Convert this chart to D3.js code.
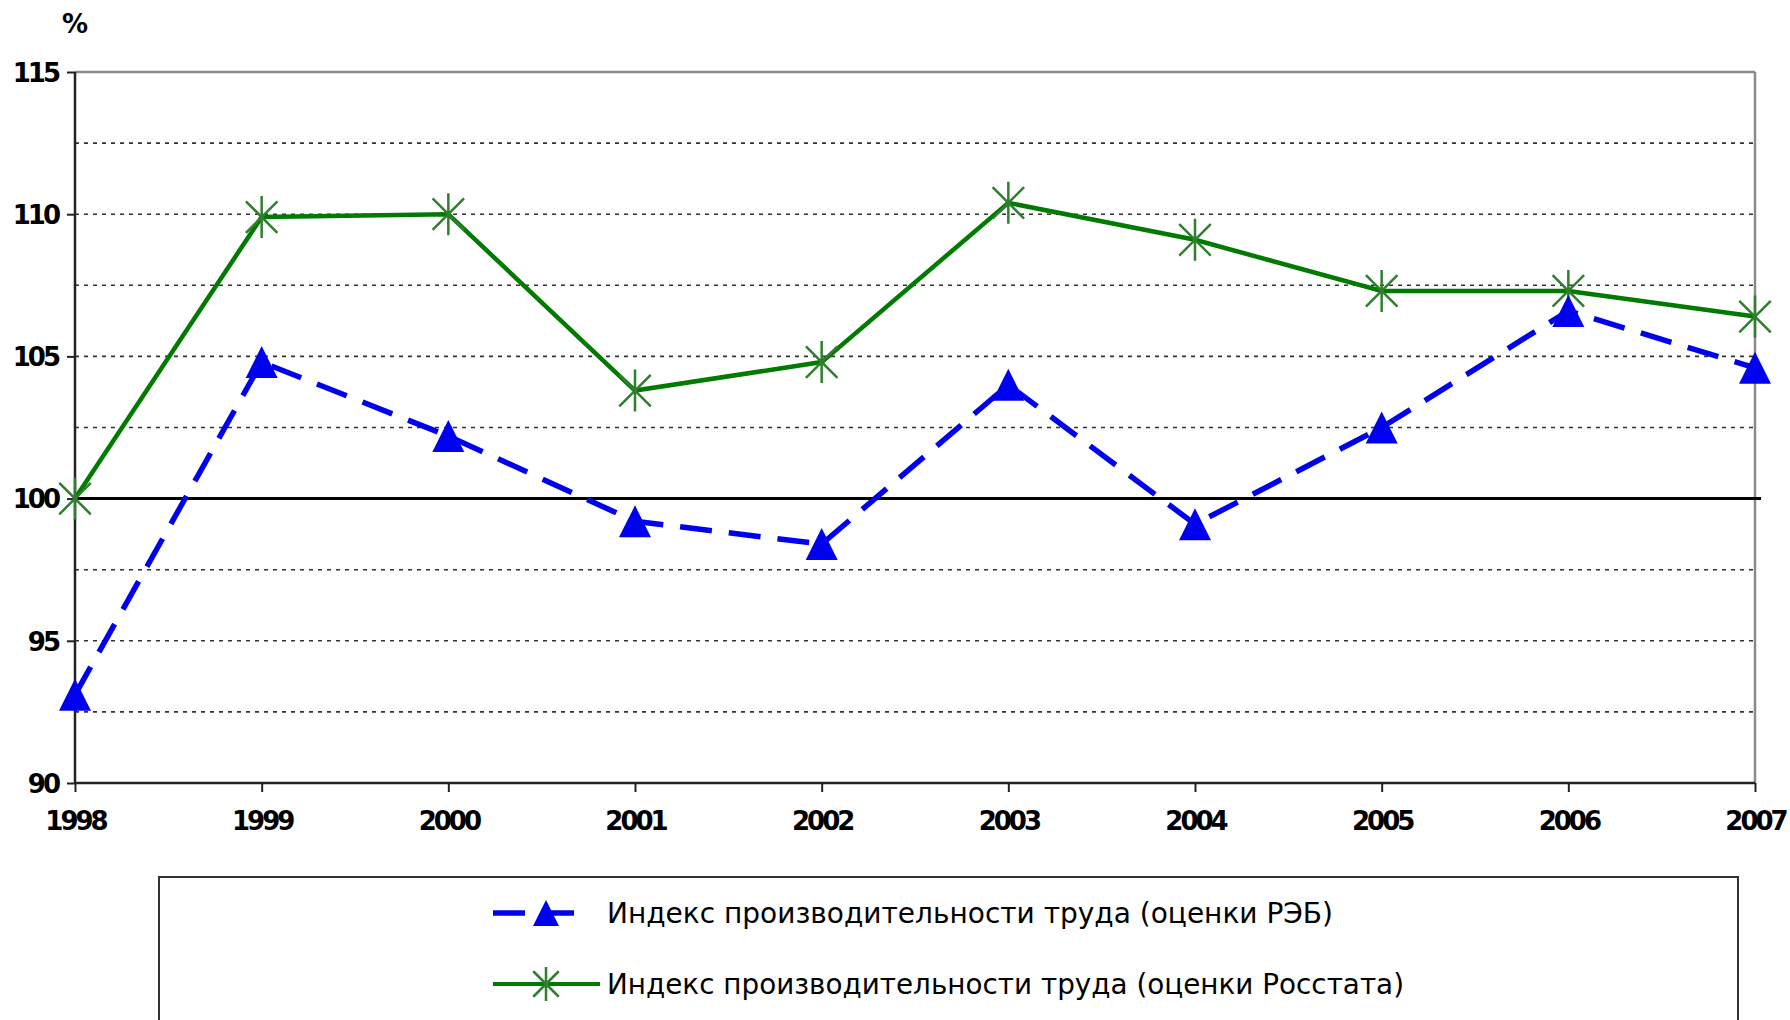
<html>
<head>
<meta charset="utf-8">
<title>labour productivity</title>
<script src="https://d3js.org/d3.v7.min.js"></script>
<style>
body { margin: 0; background: #fff; }
svg { display: block; }
</style>
</head>
<body>
<svg id="chart" width="1790" height="1020"></svg>
<script>
// data
var years = [1998, 1999, 2000, 2001, 2002, 2003, 2004, 2005, 2006, 2007];
var rebIndex = [93.1, 104.8, 102.2, 99.2, 98.4, 104.0, 99.1, 102.5, 106.6, 104.6];
var rosstatIndex = [100.0, 109.9, 110.0, 103.8, 104.8, 110.4, 109.1, 107.3, 107.3, 106.4];
var yTicks = [90, 95, 100, 105, 110, 115];
var gridLines = [92.5, 95, 97.5, 102.5, 105, 107.5, 110, 112.5];
var legendNames = ["Индекс производительности труда (оценки РЭБ)",
                   "Индекс производительности труда (оценки Росстата)"];

var svg = d3.select("#chart");

var x = d3.scaleLinear().domain([1998, 2007]).range([75, 1755]);
var y = d3.scaleLinear().domain([90, 115]).range([783, 72]);

var blue = "#0000f0", green = "#007a00", starGreen = "#2f7f2f";

// dotted grid
svg.selectAll("line.grid").data(gridLines).enter().append("line")
  .attr("class", "grid")
  .attr("x1", x(1998)).attr("x2", x(2007))
  .attr("y1", function (d) { return y(d); }).attr("y2", function (d) { return y(d); })
  .style("stroke", "#333").style("stroke-width", 1.6).style("stroke-dasharray", "4,5");

// top and right frame
svg.append("line").attr("x1", x(1998)).attr("x2", x(2007)).attr("y1", y(115)).attr("y2", y(115))
  .style("stroke", "#8a8a8a").style("stroke-width", 2.5);
svg.append("line").attr("x1", x(2007)).attr("x2", x(2007)).attr("y1", y(115)).attr("y2", y(90))
  .style("stroke", "#8a8a8a").style("stroke-width", 2.5);

// 100 line
svg.append("line").attr("x1", x(1998)).attr("x2", x(2007) + 6).attr("y1", y(100)).attr("y2", y(100))
  .style("stroke", "#000").style("stroke-width", 3);

// axes
var yAxis = d3.axisLeft(y).tickValues(yTicks).tickSize(8).tickPadding(9);
var gy = svg.append("g").attr("transform", "translate(" + x(1998) + ",0)").call(yAxis);
var xAxis = d3.axisBottom(x).tickValues(years).tickFormat(d3.format("d")).tickSize(9).tickPadding(20);
var gx = svg.append("g").attr("transform", "translate(0," + y(90) + ")").call(xAxis);

[gx, gy].forEach(function (g) {
  g.select(".domain").remove();
  g.selectAll(".tick line").style("stroke", "#222").style("stroke-width", 2);
  g.selectAll(".tick text")
    .style("font-family", "'DejaVu Sans', sans-serif")
    .style("font-size", "26px").style("font-weight", "bold")
    .style("letter-spacing", "-3px").style("fill", "#000");
});
gy.selectAll(".tick text").attr("dy", "0.36em");
gx.selectAll(".tick text").attr("dy", "0.71em");

svg.append("line").attr("x1", x(1998)).attr("x2", x(1998)).attr("y1", y(115)).attr("y2", y(90))
  .style("stroke", "#222").style("stroke-width", 2.5);
svg.append("line").attr("x1", x(1998)).attr("x2", x(2007)).attr("y1", y(90)).attr("y2", y(90))
  .style("stroke", "#222").style("stroke-width", 2.5);

svg.append("text").text("%")
  .attr("x", 75).attr("y", 33).attr("text-anchor", "middle")
  .style("font-family", "'DejaVu Sans', sans-serif").style("font-size", "26px")
  .style("font-weight", "bold");

// lines
var line = d3.line()
  .x(function (d, i) { return x(years[i]); })
  .y(function (d) { return y(d); });

svg.append("path").datum(rosstatIndex).attr("d", line)
  .style("fill", "none").style("stroke", green).style("stroke-width", 4.5);
svg.append("path").datum(rebIndex).attr("d", line)
  .style("fill", "none").style("stroke", blue).style("stroke-width", 5.5)
  .style("stroke-dasharray", "32,17");

// markers
function star(g, cx, cy, r) {
  var s = r * 0.75;
  g.append("path")
    .attr("d", "M" + cx + "," + (cy - r) + "V" + (cy + r) +
      "M" + (cx - s) + "," + (cy - s) + "L" + (cx + s) + "," + (cy + s) +
      "M" + (cx - s) + "," + (cy + s) + "L" + (cx + s) + "," + (cy - s))
    .style("stroke", starGreen).style("stroke-width", 2.5).style("fill", "none");
}
function triangle(g, cx, cy, w) {
  var h = w;
  g.append("path")
    .attr("d", "M" + cx + "," + (cy - h / 2) + "L" + (cx + w / 2) + "," + (cy + h / 2) +
      "L" + (cx - w / 2) + "," + (cy + h / 2) + "Z")
    .style("fill", blue);
}

var marks = svg.append("g");
rosstatIndex.forEach(function (v, i) { star(marks, x(years[i]), y(v), 21); });
rebIndex.forEach(function (v, i) { triangle(marks, x(years[i]), y(v), 32); });

// legend
svg.append("rect").attr("x", 159).attr("y", 877).attr("width", 1579).attr("height", 200)
  .style("fill", "#fff").style("stroke", "#333").style("stroke-width", 2);

var lg = svg.append("g");
lg.append("line").attr("x1", 493).attr("x2", 585).attr("y1", 913).attr("y2", 913)
  .style("stroke", blue).style("stroke-width", 5.5).style("stroke-dasharray", "32,17");
triangle(lg, 546, 913, 26);
lg.append("line").attr("x1", 493).attr("x2", 600).attr("y1", 984).attr("y2", 984)
  .style("stroke", green).style("stroke-width", 4);
star(lg, 546, 984, 17);

lg.selectAll("text").data(legendNames).enter().append("text")
  .text(function (d) { return d; })
  .attr("x", 607)
  .attr("y", function (d, i) { return i === 0 ? 923 : 994; })
  .attr("textLength", function (d, i) { return i === 0 ? 726 : 797; })
  .attr("lengthAdjust", "spacingAndGlyphs")
  .style("font-family", "'DejaVu Sans', sans-serif").style("font-size", "28px")
  .style("fill", "#000");
</script>
</body>
</html>
